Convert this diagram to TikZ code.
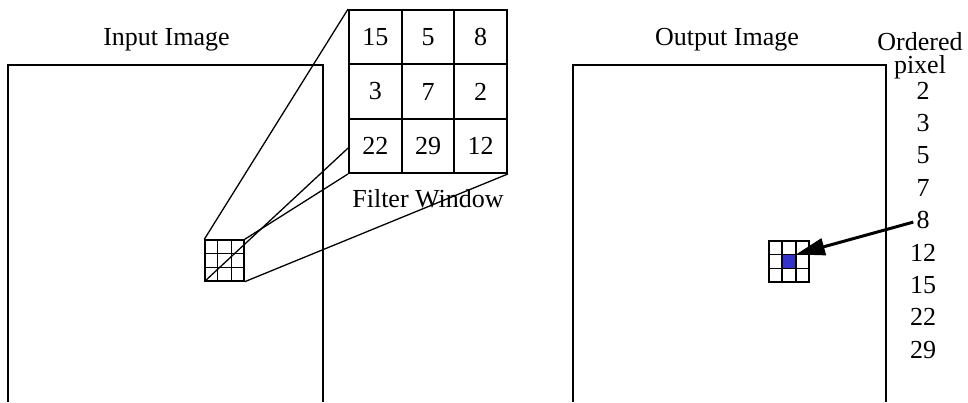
\documentclass[tikz,border=0pt]{standalone}
\usepackage{fontspec}
\setmainfont{Liberation Serif}
\usetikzlibrary{arrows.meta,calc}
\definecolor{pix}{RGB}{51,51,204}
\begin{document}
\begin{tikzpicture}[x=1pt,y=-1pt,
  txt/.style={font=\fontsize{26}{30}\selectfont, inner sep=0pt},
  lbl/.style={txt, anchor=base},
  frame/.style={line width=1.4pt},
  bigcell/.style={txt, draw, line width=1.9pt, minimum width=52.67pt, minimum height=54.33pt},
  smallgrid/.style={draw, line width=1.4pt, inner sep=0pt, minimum width=39pt, minimum height=41pt},
  link/.style={line width=1.3pt},
  pointer/.style={line width=3pt, -{Triangle[length=29pt,width=17pt]}}
]
\useasboundingbox (0,0) rectangle (968,402);

% image frames, open at the bottom
\draw[frame] (8,402) -- (8,65) -- (323,65) -- (323,402);
\draw[frame] (573,402) -- (573,65) -- (886,65) -- (886,402);

% titles
\node[lbl] (tin) at (166.5,45) {Input Image};
\node[lbl] (tout) at (727,45) {Output Image};
\node[lbl] (tord) at (920,50) {Ordered};
\node[lbl] (tpix) at (920,73) {pixel};

% enlarged filter window with its values
\foreach \v [count=\i from 0] in {15,5,8,3,7,2,22,29,12} {
  \pgfmathtruncatemacro{\r}{int(\i/3)}
  \pgfmathtruncatemacro{\c}{mod(\i,3)}
  \node[bigcell] (c\r\c) at ({349+52.67*(\c+0.5)},{10+54.33*(\r+0.5)}) {\v};
}
\node[lbl] (tfw) at (428,207) {Filter Window};

% 3x3 window in the input image
\node[smallgrid] (win) at (224.5,260.5) {};
\foreach \k in {1,2} {
  \draw[line width=1.4pt] ($(win.north west)!\k/3!(win.north east)$) -- ($(win.south west)!\k/3!(win.south east)$);
  \draw[line width=1.4pt] ($(win.north west)!\k/3!(win.south west)$) -- ($(win.north east)!\k/3!(win.south east)$);
}

% projection lines from the window to its enlargement
\coordinate (lmid) at ($(c20.north west)!0.54!(c20.south west)$);
\draw[link] (win.north west) -- (c00.north west);
\draw[link] (win.north east) -- (c20.south west);
\draw[link] (win.south west) -- (lmid);
\draw[link] (win.south east) -- (c22.south east);

% 3x3 window in the output image, centre pixel replaced
\node[smallgrid, minimum width=40pt] (wout) at (789,261.5) {};
\node[fill=pix, inner sep=0pt, minimum width=13.33pt, minimum height=13.67pt] (ctr) at (wout.center) {};
\foreach \k in {1,2} {
  \draw[line width=1.4pt] ($(wout.north west)!\k/3!(wout.north east)$) -- ($(wout.south west)!\k/3!(wout.south east)$);
  \draw[line width=1.4pt] ($(wout.north west)!\k/3!(wout.south west)$) -- ($(wout.north east)!\k/3!(wout.south east)$);
}

% sorted values
\foreach \v [count=\i from 0] in {2,3,5,7,8,12,15,22,29} {
  \node[lbl] (n\v) at (923,{99+32.4*\i}) {\v};
}

% median goes to the centre pixel
\draw[pointer] ([xshift=-3pt,yshift=-2pt]n8.west) -- (ctr.north east);
\end{tikzpicture}
\end{document}
